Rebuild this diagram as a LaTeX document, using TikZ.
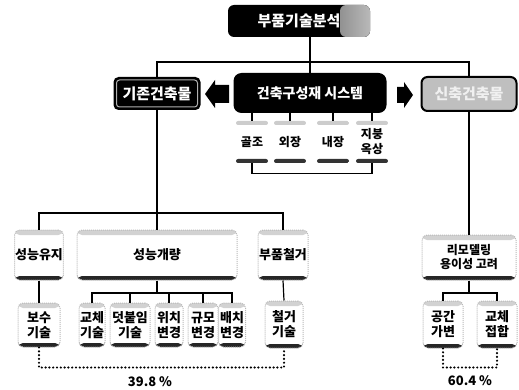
\documentclass[tikz,border=0pt]{standalone}
\usepackage{fontspec}
\setmainfont{Noto Sans CJK KR}[BoldFont={Noto Sans CJK KR Black}]
\usetikzlibrary{calc}
\tikzset{
  conn/.style={line width=1.2pt, black},
  pline/.style={line width=2.4pt, line cap=round, dash pattern=on 0pt off 3.8pt},
  mbox/.style={draw=gray!55, densely dotted, line width=1pt, rounded corners=5pt, fill=white,
    align=center, inner sep=0.5pt, font=\bfseries\fontsize{13}{15}\selectfont,
    path picture={
      \fill[gray!35] (path picture bounding box.north west) rectangle ([yshift=-5pt]path picture bounding box.north east);
      \fill[black!85] (path picture bounding box.south west) rectangle ([yshift=4pt]path picture bounding box.south east);}},
  tabbox/.style={fill=white, rounded corners=2pt, align=center, inner sep=1pt,
    font=\bfseries\fontsize{12}{15}\selectfont, minimum width=32pt, minimum height=42pt,
    path picture={
      \fill[gray!40] (path picture bounding box.north west) rectangle ([yshift=-4pt]path picture bounding box.north east);
      \fill[black!80] (path picture bounding box.south west) rectangle ([yshift=4pt]path picture bounding box.south east);}},
  topbox/.style={fill=black, rounded corners=6pt, text=white, font=\bfseries\fontsize{15}{17}\selectfont,
    minimum width=142pt, minimum height=32pt,
    path picture={\shade[left color=black, right color=gray!55] ([xshift=-30pt]path picture bounding box.north east) rectangle (path picture bounding box.south east);}},
  darkbox/.style={fill=black, rounded corners=5pt, text=white, font=\bfseries\fontsize{15}{17}\selectfont,
    path picture={\draw[gray!60, line width=1pt, rounded corners=3pt] ([shift={(3pt,-3pt)}]path picture bounding box.north west) rectangle ([shift={(-3pt,3pt)}]path picture bounding box.south east);}},
  sysbox/.style={fill=black, rounded corners=8pt, text=white, font=\bfseries\fontsize{14}{16}\selectfont},
  newbox/.style={fill=gray!50, draw=black, line width=2pt, rounded corners=6pt, text=gray!12,
    font=\bfseries\fontsize{15}{17}\selectfont},
  pct/.style={font=\bfseries\fontsize{13}{15}\selectfont}
}
\begin{document}
\begin{tikzpicture}[x=1pt,y=-1pt]
\useasboundingbox (0,0) rectangle (519,390);

% top level
\node[topbox] (top) at (299,21) {부품기술분석};
\node[darkbox, minimum width=87pt, minimum height=33pt] (exist) at (157,93.5) {기존건축물};
\node[sysbox, minimum width=153pt, minimum height=40pt] (sys) at (310,93) {건축구성재 시스템};
\node[newbox, minimum width=95pt, minimum height=34pt] (new) at (469,94) {신축건축물};

% block arrows
\fill (205,94) -- (215,80) -- (215,85) -- (229,85) -- (229,103) -- (215,103) -- (215,108) -- cycle;
\fill (413,95) -- (404,82) -- (404,87) -- (397,87) -- (397,103) -- (404,103) -- (404,108) -- cycle;

% system items
\node[tabbox] (a1) at (252,142) {골조};
\node[tabbox] (a2) at (290,142) {외장};
\node[tabbox] (a3) at (333,142) {내장};
\node[tabbox] (a4) at (372,142) {지붕\\옥상};

% level 2
\node[mbox, minimum width=48pt, minimum height=50pt] (keep) at (39,255) {성능유지};
\node[mbox, minimum width=160pt, minimum height=50pt] (improve) at (157,255) {성능개량};
\node[mbox, minimum width=50pt, minimum height=50pt] (remove) at (283,255) {부품철거};
\node[mbox, minimum width=94pt, minimum height=45pt, font=\bfseries\fontsize{12}{14}\selectfont] (remodel) at (469,257.5) {리모델링\\용이성 고려};

% level 3
\node[mbox, minimum width=42pt, minimum height=44pt] (b1) at (39,325) {보수\\기술};
\node[mbox, minimum width=26pt, minimum height=44pt] (c1) at (92,325) {교체\\기술};
\node[mbox, minimum width=40pt, minimum height=44pt] (c2) at (130,325) {덧붙임\\기술};
\node[mbox, minimum width=28pt, minimum height=44pt] (c3) at (169,325) {위치\\변경};
\node[mbox, minimum width=30pt, minimum height=44pt] (c4) at (203,325) {규모\\변경};
\node[mbox, minimum width=27pt, minimum height=44pt] (c5) at (232,325) {배치\\변경};
\node[mbox, minimum width=38pt, minimum height=47pt] (d1) at (284,324.5) {철거\\기술};
\node[mbox, minimum width=40pt, minimum height=47pt] (e1) at (443,324.5) {공간\\가변};
\node[mbox, minimum width=40pt, minimum height=47pt] (e2) at (497,324.5) {교체\\접합};

% connectors top
\coordinate (hub) at (310,62);
\draw[conn] (top.south -| sys.north) -- (sys.north);
\draw[conn] (exist.north) |- (hub) -| (new.north);
\foreach \n in {a1,a2,a3,a4} \draw[conn] (sys.south -| \n.north) -- (\n.north);
\draw[conn] (a1.south) -- ++(0,10) -| (a4.south);

% connectors level 2
\coordinate (h2) at (157,213);
\draw[conn] (exist.south) -- (improve.north);
\draw[conn] (keep.north) |- (h2) -| (remove.north);
\draw[conn] (new.south) -- (remodel.north);

% connectors level 3
\draw[conn] (keep.south) -- (b1.north);
\draw[conn] (remove.south) -- (d1.north);
\coordinate (h3) at (157,293);
\draw[conn] (improve.south) -- (h3);
\draw[conn] (c1.north) |- (h3) -| (c5.north);
\foreach \n in {c2,c3,c4} \draw[conn] (\n.north |- h3) -- (\n.north);
\coordinate (h4) at (469,293);
\draw[conn] (remodel.south) -- (h4);
\draw[conn] (e1.north) |- (h4) -| (e2.north);

% percentages
\draw[pline] (b1.south) -- ++(0,20) -| (d1.south);
\node[pct] (p1) at (150,382) {39.8 \%};
\draw[pline] (e1.south) -- ++(0,19) -| (e2.south);
\node[pct] (p2) at (470,381) {60.4 \%};
\end{tikzpicture}
\end{document}
